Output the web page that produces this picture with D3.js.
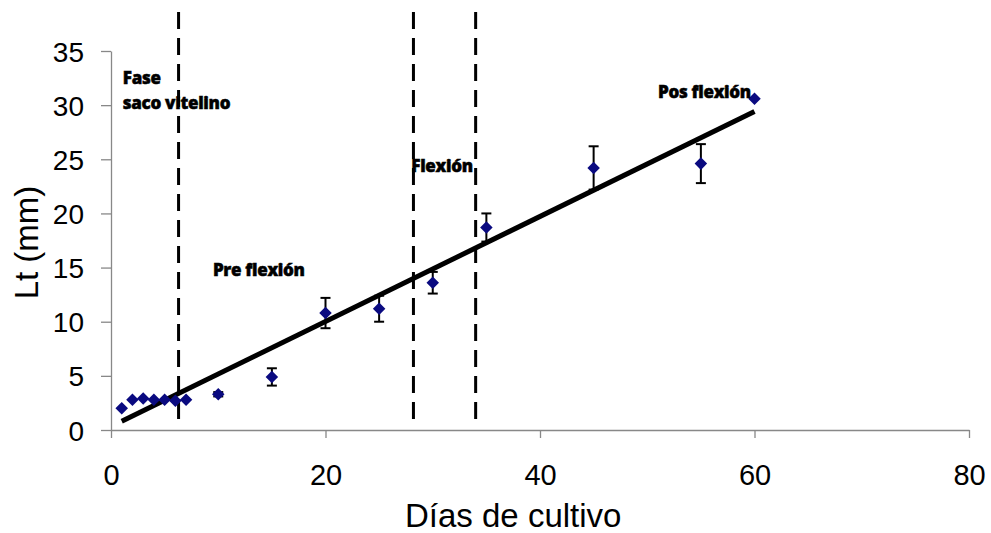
<!DOCTYPE html>
<html lang="es">
<head>
  <meta charset="UTF-8" />
  <title>Lt vs días de cultivo</title>
  <style>
    body { margin: 0; background: #fff; }
    .axis path, .axis line { stroke: #888; stroke-width: 1.3px; }
    .tick text { font-family: "Liberation Sans", Arial, sans-serif; fill: #000; }
    .phase { font-family: "Open Sans", sans-serif; font-weight: 800; font-size: 17px; fill: #000;
             stroke: #000; stroke-width: 0.5px; letter-spacing: -0.3px; }
  </style>
  <script src="https://d3js.org/d3.v7.min.js"></script>
</head>
<body>
  <div id="chart"></div>
  <script>
    // Longitud total (mm) por día de cultivo
    const dias = [1, 2, 3, 4, 5, 6, 7, 10, 15, 20, 25, 30, 35, 45, 55, 60];
    const lt   = [2.0, 2.8, 2.9, 2.8, 2.8, 2.7, 2.8, 3.3, 4.9, 10.8, 11.2, 13.6, 18.7, 24.2, 24.6, 30.6];
    const err  = [0, 0, 0, 0, 0, 0, 0, 0.2, 0.8, 1.4, 1.2, 1.0, 1.3, 2.0, 1.8, 0];

    // recta de tendencia y límites de fase
    const trend = { slope: 0.485, intercept: 0.32, from: 1, to: 60 };
    const phaseLines = [6.3, 28.2, 34];
    const phaseLabels = [
      { text: "Fase", x: 1.1, y: 31.95 },
      { text: "saco vitelino", x: 1.1, y: 29.64 },
      { text: "Pre flexión", x: 9.5, y: 14.22 },
      { text: "Flexión", x: 28.0, y: 23.82 },
      { text: "Pos flexión", x: 51.0, y: 30.66 }
    ];
    const xTicks = [0, 20, 40, 60, 80];
    const yTicks = [0, 5, 10, 15, 20, 25, 30, 35];

    const W = 991, H = 533;
    const x = d3.scaleLinear().domain([0, 80]).range([111, 969]);
    const y = d3.scaleLinear().domain([0, 35]).range([430, 51]);

    const svg = d3.select("#chart").append("svg")
      .attr("width", W).attr("height", H);

    // ejes
    svg.append("g")
      .attr("class", "axis")
      .attr("transform", `translate(0,${y(0)})`)
      .call(d3.axisBottom(x).tickValues(xTicks).tickSize(8).tickSizeOuter(0))
      .call(g => g.selectAll("text")
        .style("font-size", "29px")
        .attr("y", 55).attr("dy", 0));

    svg.append("g")
      .attr("class", "axis")
      .attr("transform", `translate(${x(0)},0)`)
      .call(d3.axisLeft(y).tickValues(yTicks).tickSize(10).tickPadding(17).tickSizeOuter(0))
      .call(g => g.selectAll("text").style("font-size", "28px").attr("dy", "0.36em"));

    // títulos de ejes
    svg.append("text")
      .attr("x", 405).attr("y", 527)
      .style("font-family", "'Liberation Sans', Arial, sans-serif")
      .style("font-size", "33px")
      .text("Días de cultivo");

    svg.append("text")
      .attr("transform", `translate(38,${y(17.5) + 2}) rotate(-90)`)
      .attr("text-anchor", "middle")
      .style("font-family", "'Liberation Sans', Arial, sans-serif")
      .style("font-size", "33px")
      .text("Lt (mm)");

    // líneas de fase
    svg.selectAll(".phase-line")
      .data(phaseLines)
      .enter().append("line")
      .attr("class", "phase-line")
      .attr("x1", d => x(d)).attr("x2", d => x(d))
      .attr("y1", 12).attr("y2", 421)
      .attr("stroke", "#000")
      .attr("stroke-width", 3)
      .attr("stroke-dasharray", "17,9");

    // recta de tendencia
    svg.append("line")
      .attr("x1", x(trend.from)).attr("y1", y(trend.slope * trend.from + trend.intercept))
      .attr("x2", x(trend.to)).attr("y2", y(trend.slope * trend.to + trend.intercept))
      .attr("stroke", "#000")
      .attr("stroke-width", 5);

    const pts = dias.map((d, i) => ({ d, v: lt[i], e: err[i] }));

    // barras de error
    const eb = svg.selectAll(".err")
      .data(pts.filter(p => p.e > 0))
      .enter().append("g")
      .attr("class", "err")
      .attr("stroke", "#000")
      .attr("stroke-width", 2);
    eb.append("line")
      .attr("x1", p => x(p.d)).attr("x2", p => x(p.d))
      .attr("y1", p => y(p.v - p.e)).attr("y2", p => y(p.v + p.e));
    eb.append("line")
      .attr("x1", p => x(p.d) - 5).attr("x2", p => x(p.d) + 5)
      .attr("y1", p => y(p.v + p.e)).attr("y2", p => y(p.v + p.e));
    eb.append("line")
      .attr("x1", p => x(p.d) - 5).attr("x2", p => x(p.d) + 5)
      .attr("y1", p => y(p.v - p.e)).attr("y2", p => y(p.v - p.e));

    // puntos
    svg.selectAll(".pt")
      .data(pts)
      .enter().append("path")
      .attr("class", "pt")
      .attr("d", d3.symbol().type(d3.symbolDiamond2).size(100))
      .attr("transform", p => `translate(${x(p.d)},${y(p.v)})`)
      .attr("fill", "#0a0a80");

    // etiquetas de fase
    svg.selectAll(".phase")
      .data(phaseLabels)
      .enter().append("text")
      .attr("class", "phase")
      .attr("x", p => x(p.x)).attr("y", p => y(p.y))
      .text(p => p.text);
  </script>
</body>
</html>
